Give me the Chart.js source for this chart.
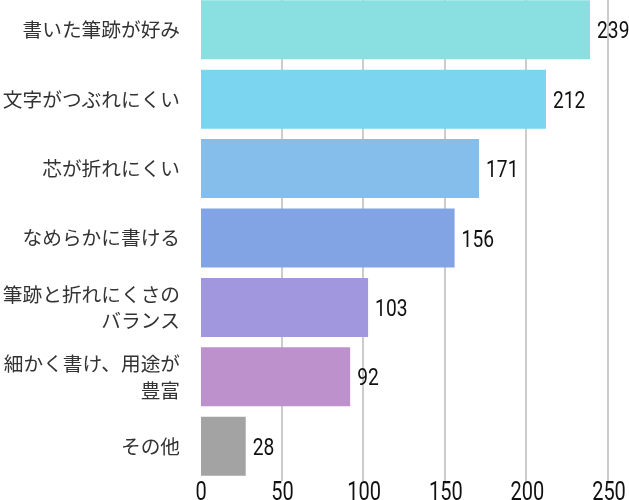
<!DOCTYPE html>
<html>
<head>
<meta charset="utf-8">
<script src="https://cdn.jsdelivr.net/npm/chart.js@4"></script>
<style>
  html, body { margin: 0; padding: 0; background: #fff; overflow: hidden; }
  #wrap { position: relative; width: 629px; height: 520px; margin-top: -5px; }
</style>
</head>
<body>
<div id="wrap"><canvas id="chart"></canvas></div>
<script>
const categories = [
  "書いた筆跡が好み",
  "文字がつぶれにくい",
  "芯が折れにくい",
  "なめらかに書ける",
  ["筆跡と折れにくさの", "バランス"],
  ["細かく書け、用途が", "豊富"],
  "その他"
];
const counts = [239, 212, 171, 156, 103, 92, 28];
const barColors = ["#8adfe0", "#7bd5f0", "#85bdeb", "#83a4e4", "#a197df", "#bd91cc", "#a3a3a3"];
const xTicks = [0, 50, 100, 150, 200, 250];

// narrow digits: Roboto squeezed horizontally
const squeeze = 0.8;
function narrowText(ctx, text, x, y, size, align) {
  ctx.save();
  ctx.font = size + "px Roboto, sans-serif";
  ctx.fillStyle = "#111";
  ctx.textBaseline = "alphabetic";
  ctx.textAlign = align;
  ctx.translate(x, y);
  ctx.scale(squeeze, 1);
  ctx.fillText(text, 0, 0);
  ctx.restore();
}

// value after each bar, and the x tick labels
const numberLabels = {
  id: "numberLabels",
  afterDatasetsDraw(chart) {
    const ctx = chart.ctx;
    chart.getDatasetMeta(0).data.forEach((bar, i) => {
      narrowText(ctx, String(counts[i]), bar.x + 7, bar.y + 8.5, 24, "left");
    });
    const xs = chart.scales.x;
    xTicks.forEach(v => {
      narrowText(ctx, String(v), xs.getPixelForValue(v) + 1, chart.chartArea.bottom + 18.5, 25, "center");
    });
  }
};

new Chart(document.getElementById("chart"), {
  type: "bar",
  data: {
    labels: categories,
    datasets: [{
      data: counts,
      backgroundColor: barColors,
      barPercentage: 0.85,
      categoryPercentage: 1
    }]
  },
  options: {
    indexAxis: "y",
    responsive: true,
    maintainAspectRatio: false,
    animation: false,
    layout: { padding: { right: 21, left: 0, top: 0, bottom: 0 } },
    plugins: { legend: { display: false }, tooltip: { enabled: false } },
    scales: {
      x: {
        min: 0,
        max: 250,
        afterBuildTicks: axis => { axis.ticks = xTicks.map(v => ({ value: v })); },
        afterFit: axis => { axis.height = 34; axis.paddingLeft = 0; axis.paddingRight = 0; },
        grid: {
          color: ctx => ctx.tick && ctx.tick.value === 0 ? "rgba(0,0,0,0)" : "#cccccc",
          lineWidth: 2,
          drawTicks: false
        },
        border: { display: false },
        ticks: { display: false }
      },
      y: {
        afterFit: axis => { axis.width = 200; axis.paddingTop = 0; axis.paddingBottom = 0; },
        grid: { display: false, drawTicks: false },
        border: { display: false },
        ticks: {
          color: "#333",
          padding: 20,
          font: { family: "'Noto Sans CJK JP', sans-serif", size: 19.7, lineHeight: 1.35 }
        }
      }
    }
  },
  plugins: [numberLabels]
});
</script>
</body>
</html>
